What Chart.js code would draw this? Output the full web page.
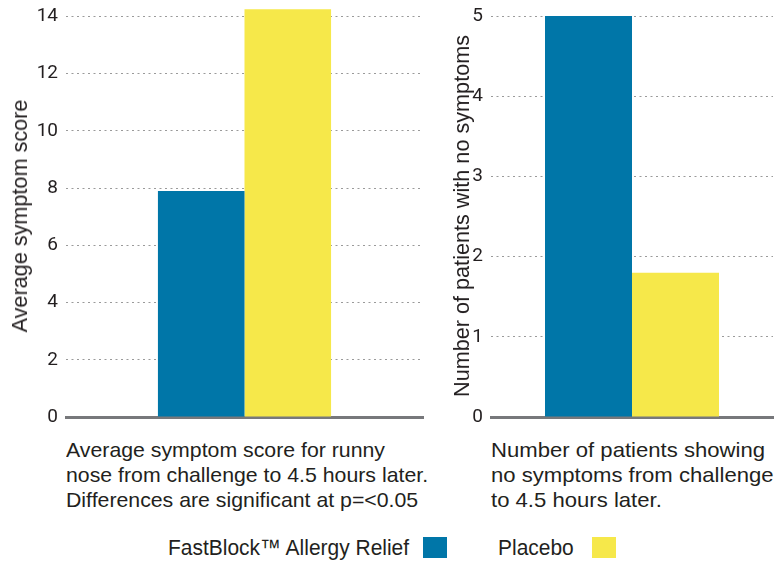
<!DOCTYPE html>
<html>
<head>
<meta charset="utf-8">
<script src="https://cdn.jsdelivr.net/npm/chart.js@4"></script>
<style>
  body { margin: 0; background: #fff; font-family: "Liberation Sans", Arial, sans-serif; color: #231f20; }
  #page { position: relative; width: 781px; height: 564px; overflow: hidden; }
  .box { position: absolute; }
  .txt { position: absolute; white-space: nowrap; transform-origin: 0 0; }
  .caption { font-size: 21px; line-height: 25px; top: 437px; }
  .legend-item { font-size: 22px; line-height: 26px; top: 535px; }
  .swatch { position: absolute; top: 537px; width: 24px; height: 21px; }
  .ytitle { position: absolute; font-size: 22px; line-height: 24px; white-space: nowrap; }
</style>
</head>
<body>
<div id="page">
  <div class="box" style="left:0;top:0;width:430px;height:430px"><canvas id="scoreChart"></canvas></div>
  <div class="box" style="left:430px;top:0;width:351px;height:430px"><canvas id="patientChart"></canvas></div>

  <div class="ytitle" id="scoreTitle"></div>
  <div class="ytitle" id="patientTitle"></div>

  <div class="txt caption" id="scoreCaption" style="left:66px"></div>
  <div class="txt caption" id="patientCaption" style="left:491px"></div>

  <div class="txt legend-item" id="leg0" style="left:168px"></div>
  <div class="swatch" id="sw0" style="left:423px"></div>
  <div class="txt legend-item" id="leg1" style="left:498px"></div>
  <div class="swatch" id="sw1" style="left:592px"></div>
</div>

<script>
var seriesNames = ['FastBlock\u2122 Allergy Relief', 'Placebo'];
var seriesColors = ['#0076A8', '#F6E84A'];

// average symptom score (left panel)
var scoreValues = [7.9, 14.25];
var scoreTicks = [0, 2, 4, 6, 8, 10, 12, 14];
var scoreTitle = 'Average symptom score';
var scoreCaption = ['Average symptom score for runny', 'nose from challenge to 4.5 hours later.', 'Differences are significant at p=<0.05'];

// patients with no symptoms (right panel)
var patientValues = [5, 1.8];
var patientTicks = [0, 1, 2, 3, 4, 5];
var patientTitle = 'Number of patients with no symptoms';
var patientCaption = ['Number of patients showing', 'no symptoms from challenge', 'to 4.5 hours later.'];

var FONT = 'Roboto, "Liberation Sans", sans-serif';

function makeChart(id, values, ticks, max, catPct, axisWidth, padTop, padRight) {
    var ctx = document.getElementById(id).getContext('2d');
    return new Chart(ctx, {
        type: 'bar',
        data: {
            labels: [''],
            datasets: seriesNames.map(function (name, i) {
                return {
                    label: name,
                    data: [values[i]],
                    backgroundColor: seriesColors[i],
                    borderWidth: 0,
                    categoryPercentage: catPct,
                    barPercentage: 1
                };
            })
        },
        options: {
            responsive: true,
            maintainAspectRatio: false,
            animation: false,
            layout: { padding: { top: padTop, right: padRight, left: 0, bottom: 0 } },
            plugins: { legend: { display: false }, tooltip: { enabled: false } },
            scales: {
                x: {
                    grid: { display: false },
                    ticks: { display: false },
                    border: { display: true, color: '#77787b', width: 3 },
                    afterFit: function (s) { s.height = 13; }
                },
                y: {
                    min: 0,
                    max: max,
                    afterBuildTicks: function (s) {
                        s.ticks = ticks.map(function (v) { return { value: v }; });
                    },
                    ticks: {
                        color: '#231f20',
                        font: { family: FONT, size: 19 },
                        padding: 8
                    },
                    grid: {
                        color: '#9a9a9a',
                        lineWidth: 1,
                        drawTicks: false
                    },
                    border: { display: false, dash: [2, 3.5] },
                    afterFit: function (s) {
                        s.width = axisWidth;
                        s.paddingTop = 0;
                        s.paddingBottom = 0;
                    }
                }
            }
        }
    });
}

makeChart('scoreChart', scoreValues, scoreTicks, 14.5, 0.485, 66, 2, 7);
makeChart('patientChart', patientValues, patientTicks, 5, 0.617, 61, 16, 8);

// squeeze text horizontally so it matches the condensed face of the original
function setBlock(el, lines, firstWidth) {
    el.innerHTML = lines.map(function (l) { return '<div><span>' + l + '</span></div>'; }).join('');
    var span = el.querySelector('span');
    var k = firstWidth / span.getBoundingClientRect().width;
    el.style.transform = 'scaleX(' + k + ')';
}

function setTitle(el, text, length, cx, cy) {
    el.textContent = text;
    var k = length / el.scrollWidth;
    el.style.left = cx + 'px';
    el.style.top = cy + 'px';
    el.style.transform = 'translate(-50%, -50%) rotate(-90deg) scaleX(' + k + ')';
}

setTitle(document.getElementById('scoreTitle'), scoreTitle, 233, 20, 216);
setTitle(document.getElementById('patientTitle'), patientTitle, 362, 462, 216);

setBlock(document.getElementById('scoreCaption'), scoreCaption, 319);
setBlock(document.getElementById('patientCaption'), patientCaption, 274);

var leg0 = document.getElementById('leg0');
var leg1 = document.getElementById('leg1');
leg0.textContent = seriesNames[0];
leg1.textContent = seriesNames[1];
var kl = 241 / leg0.scrollWidth;
leg0.style.transform = 'scaleX(' + kl + ')';
leg1.style.transform = 'scaleX(' + kl + ')';
document.getElementById('sw0').style.background = seriesColors[0];
document.getElementById('sw1').style.background = seriesColors[1];
</script>
</body>
</html>
